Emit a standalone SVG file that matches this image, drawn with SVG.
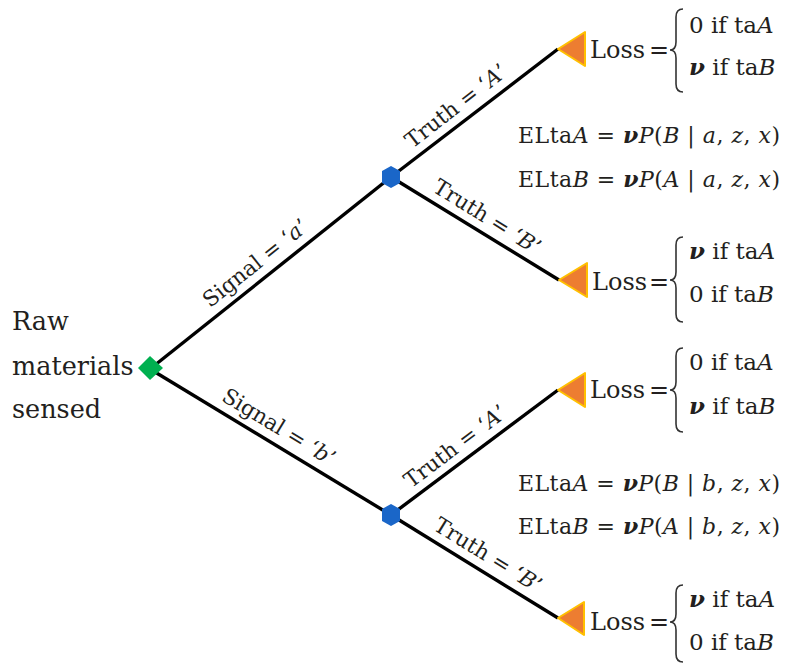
<svg xmlns="http://www.w3.org/2000/svg" width="788" height="663" viewBox="0 0 788 663">
<style>
text{font-family:"DejaVu Serif","Liberation Serif",serif;fill:#231f20}
.lbl{font-size:21.5px}
.big{font-size:25.5px}
.loss{font-size:24px}
.br{font-size:23px}
.el{font-size:22px}
.i{font-style:italic}
.bi{font-style:italic;font-weight:bold}
.edge{stroke:#000;stroke-width:3.4;fill:none}
.brace{stroke:#333;stroke-width:1.6;fill:none}
.tri{fill:#ED7D31;stroke:#FFC000;stroke-width:2;stroke-linejoin:round}
.chance{fill:#1A66C8}
.dec{fill:#00B050}
</style>
<rect width="788" height="663" fill="#fff"/>
<g id="connectors">
<line class="edge" x1="150" y1="369" x2="391" y2="177"/>
<line class="edge" x1="150" y1="369" x2="391" y2="515"/>
<line class="edge" x1="391" y1="177" x2="558" y2="49"/>
<line class="edge" x1="391" y1="177" x2="559" y2="280"/>
<line class="edge" x1="391" y1="515" x2="558" y2="390"/>
<line class="edge" x1="391" y1="515" x2="558" y2="618"/>
<text class="lbl" text-anchor="middle" transform="translate(266,276.6) rotate(-38.5)" y="-10">Signal = ‘<tspan class="i">a</tspan>’</text>
<text class="lbl" text-anchor="middle" transform="translate(270,441.7) rotate(31.2)" y="-10">Signal = ‘<tspan class="i">b</tspan>’</text>
<text class="lbl" text-anchor="middle" transform="translate(466,118.7) rotate(-37.8)" y="-9">Truth = ‘<tspan class="i">A</tspan>’</text>
<text class="lbl" text-anchor="middle" transform="translate(478,231.5) rotate(32)" y="-10">Truth = ‘<tspan class="i">B</tspan>’</text>
<text class="lbl" text-anchor="middle" transform="translate(465,459.3) rotate(-37)" y="-9">Truth = ‘<tspan class="i">A</tspan>’</text>
<text class="lbl" text-anchor="middle" transform="translate(479,569.6) rotate(31.8)" y="-10">Truth = ‘<tspan class="i">B</tspan>’</text>
</g>
<g id="root">
<polygon class="dec" points="150,356 163,368 150,380 138,368"/>
<text class="big" x="12" y="330">Raw</text>
<text class="big" x="12" y="375">materials</text>
<text class="big" x="12" y="418">sensed</text>
</g>
<g id="chance-a">
<polygon class="chance" points="391,166 400,171 400,183 391,188 382,183 382,171"/>
<text class="el" x="518" y="143" textLength="262" lengthAdjust="spacing">ELta<tspan class="i">A</tspan> = <tspan class="bi">ν</tspan><tspan class="i">P</tspan>(<tspan class="i">B</tspan> | <tspan class="i">a</tspan>, <tspan class="i">z</tspan>, <tspan class="i">x</tspan>)</text>
<text class="el" x="518" y="187" textLength="262" lengthAdjust="spacing">ELta<tspan class="i">B</tspan> = <tspan class="bi">ν</tspan><tspan class="i">P</tspan>(<tspan class="i">A</tspan> | <tspan class="i">a</tspan>, <tspan class="i">z</tspan>, <tspan class="i">x</tspan>)</text>
</g>
<g id="chance-b">
<polygon class="chance" points="391,504 400,509 400,521 391,526 382,521 382,509"/>
<text class="el" x="518" y="491" textLength="262" lengthAdjust="spacing">ELta<tspan class="i">A</tspan> = <tspan class="bi">ν</tspan><tspan class="i">P</tspan>(<tspan class="i">B</tspan> | <tspan class="i">b</tspan>, <tspan class="i">z</tspan>, <tspan class="i">x</tspan>)</text>
<text class="el" x="518" y="534" textLength="262" lengthAdjust="spacing">ELta<tspan class="i">B</tspan> = <tspan class="bi">ν</tspan><tspan class="i">P</tspan>(<tspan class="i">A</tspan> | <tspan class="i">b</tspan>, <tspan class="i">z</tspan>, <tspan class="i">x</tspan>)</text>
</g>
<g id="end-aA">
<polygon class="tri" points="558,49 585,32 585,66"/>
<text class="loss" x="590" y="58">Loss</text>
<text class="loss" x="649" y="58">=</text>
<path class="brace" d="M683 9 Q676 9 676 17 L676 42 Q676 50 670 50 Q676 50 676 58 L676 84 Q676 92 683 92"/>
<text class="br" x="689" y="33">0 if ta<tspan class="i">A</tspan></text>
<text class="br" x="689" y="75"><tspan class="bi">ν</tspan> if ta<tspan class="i">B</tspan></text>
</g>
<g id="end-aB">
<polygon class="tri" points="559,280 587,263 587,297"/>
<text class="loss" x="592" y="290">Loss</text>
<text class="loss" x="649" y="290">=</text>
<path class="brace" d="M683 237 Q676 237 676 245 L676 272 Q676 280 670 280 Q676 280 676 288 L676 314 Q676 322 683 322"/>
<text class="br" x="689" y="259"><tspan class="bi">ν</tspan> if ta<tspan class="i">A</tspan></text>
<text class="br" x="689" y="302">0 if ta<tspan class="i">B</tspan></text>
</g>
<g id="end-bA">
<polygon class="tri" points="558,390 585,373 585,407"/>
<text class="loss" x="590" y="398">Loss</text>
<text class="loss" x="649" y="398">=</text>
<path class="brace" d="M683 348 Q676 348 676 356 L676 382 Q676 390 670 390 Q676 390 676 398 L676 424 Q676 432 683 432"/>
<text class="br" x="689" y="370">0 if ta<tspan class="i">A</tspan></text>
<text class="br" x="689" y="414"><tspan class="bi">ν</tspan> if ta<tspan class="i">B</tspan></text>
</g>
<g id="end-bB">
<polygon class="tri" points="558,618 584,602 584,635"/>
<text class="loss" x="590" y="630">Loss</text>
<text class="loss" x="649" y="630">=</text>
<path class="brace" d="M683 585 Q676 585 676 593 L676 614 Q676 622 670 622 Q676 622 676 630 L676 654 Q676 662 683 662"/>
<text class="br" x="689" y="607"><tspan class="bi">ν</tspan> if ta<tspan class="i">A</tspan></text>
<text class="br" x="689" y="650">0 if ta<tspan class="i">B</tspan></text>
</g>
</svg>
